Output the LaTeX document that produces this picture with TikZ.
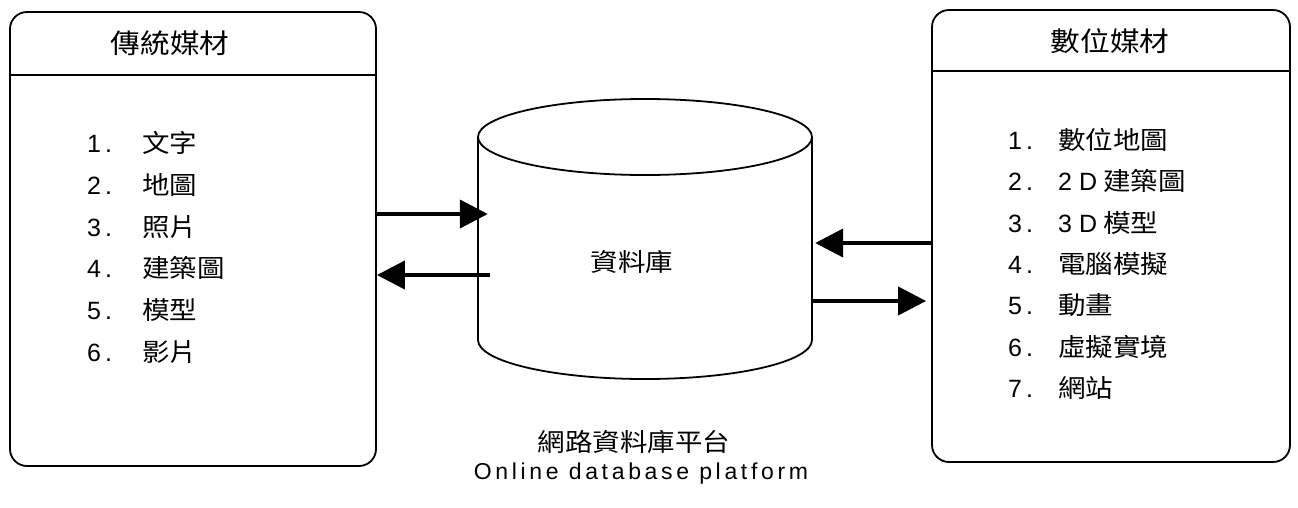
\documentclass[tikz,border=0pt]{standalone}
\usepackage{fontspec}
\setmainfont{Liberation Sans}
\newfontfamily\cjk[FakeStretch=1.1]{Noto Sans CJK TC}
\newfontfamily\spaced[LetterSpace=16]{Liberation Sans}
\usetikzlibrary{arrows.meta}
\begin{document}
\begin{tikzpicture}[x=1pt,y=-1pt,
  mediabox/.style={draw, line width=1.8pt, rounded corners=17pt, inner sep=0pt},
  boxline/.style={line width=1.8pt},
  dbline/.style={line width=1.8pt},
  titletext/.style={font=\cjk\fontsize{27}{32}\selectfont, inner sep=0pt},
  numtext/.style={font=\fontsize{25}{30}\selectfont, anchor=base west, inner sep=0pt},
  itemtext/.style={font=\cjk\fontsize{25}{30}\selectfont, anchor=base west, inner sep=0pt},
  flow/.style={line width=4pt, -{Triangle[length=28pt,width=28pt]}},
]
\useasboundingbox (0,0) rectangle (1298,507);

% boxes
\node[mediabox, minimum width=366pt, minimum height=454pt] (lbox) at (193,239) {};
\node[mediabox, minimum width=358pt, minimum height=452pt] (rbox) at (1111,236) {};
\coordinate (lh) at (0,75);
\coordinate (rh) at (0,71);
\draw[boxline] (lbox.west |- lh) -- (lbox.east |- lh);
\draw[boxline] (rbox.west |- rh) -- (rbox.east |- rh);
\node[titletext] (ltitle) at (170,43) {傳統媒材};
\node[titletext] (rtitle) at (1110,41) {數位媒材};

% left list
\foreach \n/\t [count=\i] in {1/文字,2/地圖,3/照片,4/建築圖,5/模型,6/影片}{
  \pgfmathsetmacro{\yy}{143+41.8*(\i-1)+9.5}
  \node[numtext] (ln\i) at (87,\yy) {\n\hspace{4pt}.};
  \node[itemtext] (lt\i) at (142,\yy) {\t};
}
% right list
\foreach \n/\t [count=\i] in {1/數位地圖,2/{{\rmfamily 2\hspace{7pt}D}\hspace{6pt}建築圖},3/{{\rmfamily 3\hspace{7pt}D}\hspace{6pt}模型},4/電腦模擬,5/動畫,6/虛擬實境,7/網站}{
  \pgfmathsetmacro{\yy}{140+41.3*(\i-1)+9.5}
  \node[numtext] (rn\i) at (1008,\yy) {\n\hspace{4pt}.};
  \node[itemtext] (rt\i) at (1058,\yy) {\t};
}

% database cylinder
\node[inner sep=0pt, minimum width=334pt, minimum height=280pt] (db) at (645,238) {};
\draw[dbline] (478,137) -- (478,340) arc[start angle=180, end angle=360, x radius=167pt, y radius=39pt] -- (812,137);
\draw[dbline] (645,137) ellipse[x radius=167pt, y radius=38pt];
\node[itemtext, anchor=center] (dbtext) at (632,262) {資料庫};

% arrows
\coordinate (a1) at (0,214);
\coordinate (a2) at (0,275);
\coordinate (a3) at (0,243);
\coordinate (a4) at (0,301);
\draw[flow, shorten >=-10pt] (lbox.east |- a1) -- (db.west |- a1);
\draw[flow, shorten <=-12pt] (db.west |- a2) -- (lbox.east |- a2);
\draw[flow, shorten >=3pt] (rbox.west |- a3) -- (db.east |- a3);
\draw[flow, shorten >=5pt] (db.east |- a4) -- (rbox.west |- a4);

% captions
\node[itemtext, anchor=center] (cap1) at (634,442) {網路資料庫平台};
\node[font=\spaced\fontsize{23}{27}\selectfont, inner sep=0pt] (cap2) at (641,474) {Online database platform};
\end{tikzpicture}
\end{document}
